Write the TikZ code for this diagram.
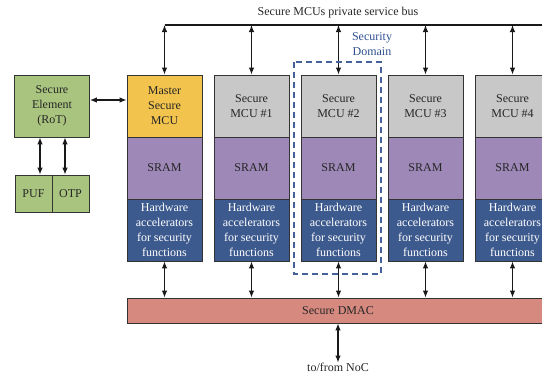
\documentclass[tikz,border=0pt]{standalone}
\usepackage{fontspec}
\setmainfont{Liberation Serif}
\usetikzlibrary{arrows.meta}
\definecolor{segreen}{HTML}{A9C47F}
\definecolor{mstyellow}{HTML}{F2C44E}
\definecolor{mcugray}{HTML}{C8C8C8}
\definecolor{srampurple}{HTML}{9E88B8}
\definecolor{hwblue}{HTML}{3D5A8E}
\definecolor{dmacred}{HTML}{D6897F}
\definecolor{domblue}{HTML}{2F4F8F}
\tikzset{
  blk/.style={draw=black!80, line width=0.8pt, minimum width=75pt, minimum height=62pt,
    inner sep=0pt, align=center, font=\fontsize{12}{15}\selectfont, text=black!85},
  biarrow/.style={{Latex[length=7pt,width=5.5pt]}-{Latex[length=7pt,width=5.5pt]}, line width=1.1pt, black!90},
  lbl/.style={font=\fontsize{12}{15}\selectfont, align=center, inner sep=0pt, text=black!85},
}
\begin{document}
\begin{tikzpicture}[x=1pt,y=-1pt]
\useasboundingbox (0,0) rectangle (542,375);
% secure element
\node[blk, fill=segreen] (se) at (52,106) {Secure\\Element\\(RoT)};
\node[blk, fill=segreen, minimum width=37pt, minimum height=37pt] (puf) at (33.5,193.5) {PUF};
\node[blk, fill=segreen, minimum width=37pt, minimum height=37pt] (otp) at (70.5,193.5) {OTP};
\draw[biarrow] (se.south -| 40,0) -- (puf.north -| 40,0);
\draw[biarrow] (se.south -| 65,0) -- (otp.north -| 65,0);
% columns
\foreach \i/\fc/\txt in {0/mstyellow/{Master\\Secure\\MCU},1/mcugray/{Secure\\MCU \#1},2/mcugray/{Secure\\MCU \#2},3/mcugray/{Secure\\MCU \#3},4/mcugray/{Secure\\MCU \#4}}{
  \pgfmathsetmacro{\cx}{164.5+87*\i}
  \node[blk, fill=\fc] (mcu\i) at (\cx,106) {\txt};
  \node[blk, fill=srampurple] (sram\i) at (\cx,168) {SRAM};
  \node[blk, fill=hwblue, text=white] (hw\i) at (\cx,230) {Hardware\\accelerators\\for security\\functions};
  \coordinate (b\i) at (\cx,25);
}
% DMAC
\node[blk, fill=dmacred, minimum width=422pt, minimum height=25pt] (dmac) at (338,310.5) {Secure DMAC};
\foreach \i in {0,...,4}{
  \draw[biarrow] (b\i) -- (mcu\i.north);
  \draw[biarrow] (hw\i.south) -- (hw\i.south |- dmac.north);
}
% bus
\coordinate (busend) at (548,25);
\draw[line width=1.1pt, black!90] (b0) -- (busend);
\node[lbl] (bustxt) at (338,13) {Secure MCUs private service bus};
% SE to master
\draw[biarrow] (se.east |- 0,100) -- (mcu0.west |- 0,100);
% security domain
\draw[domblue!90, line width=1.2pt, dash pattern=on 6pt off 4pt] (294,62) rectangle (381,274);
\node[lbl, text=domblue] (domtxt) at (372,44.5) {Security\\Domain};
% NoC
\node[lbl] (noc) at (338,367) {to/from NoC};
\draw[biarrow] (dmac.south) -- (noc.north);
\end{tikzpicture}
\end{document}
